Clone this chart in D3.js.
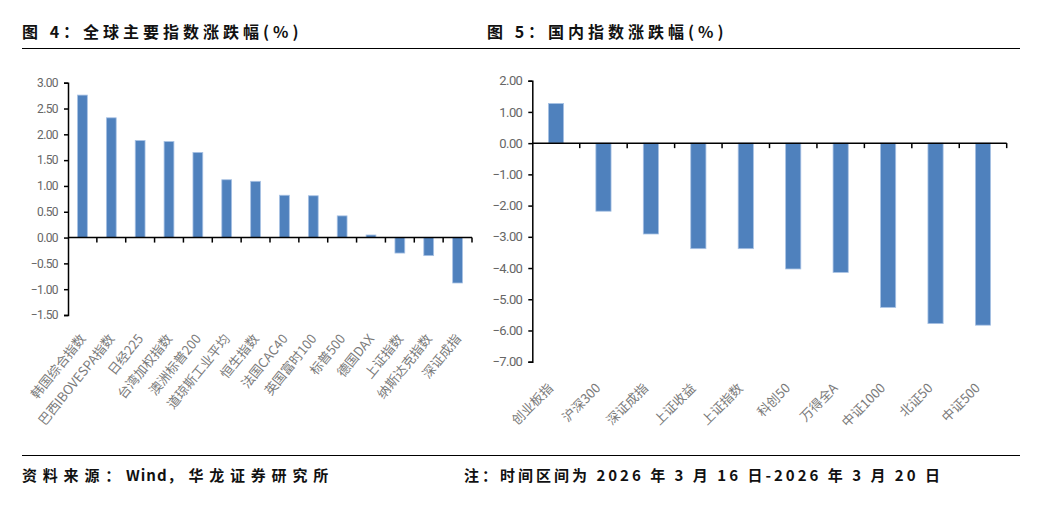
<!DOCTYPE html>
<html>
<head>
<meta charset="utf-8">
<script src="https://d3js.org/d3.v7.min.js"></script>
<style>
  body { margin: 0; background: #fff; }
  svg text { font-family: "Noto Sans CJK SC", sans-serif; }
  .title { font-size: 16px; font-weight: 700; fill: #111; letter-spacing: 4px; }
  .foot { font-size: 15px; font-weight: 700; fill: #111; }
  .ytick text { font-family: Roboto, sans-serif; fill: #666; }
  .cat { fill: #7a7a7a; }
</style>
</head>
<body>
<svg id="chart" width="1045" height="507"></svg>
<script>
// 图4 全球主要指数
var globalNames = ["韩国综合指数", "巴西IBOVESPA指数", "日经225", "台湾加权指数", "澳洲标普200",
  "道琼斯工业平均", "恒生指数", "法国CAC40", "英国富时100", "标普500", "德国DAX",
  "上证指数", "纳斯达克指数", "深证成指"];
var globalValues = [2.76, 2.32, 1.88, 1.86, 1.65, 1.12, 1.09, 0.82, 0.81, 0.42, 0.05, -0.30, -0.35, -0.88];
var globalTicks = [3, 2.5, 2, 1.5, 1, 0.5, 0, -0.5, -1, -1.5];

// 图5 国内指数
var domesticNames = ["创业板指", "沪深300", "深证成指", "上证收益", "上证指数", "科创50",
  "万得全A", "中证1000", "北证50", "中证500"];
var domesticValues = [1.27, -2.18, -2.91, -3.38, -3.38, -4.03, -4.14, -5.26, -5.78, -5.83];
var domesticTicks = [2, 1, 0, -1, -2, -3, -4, -5, -6, -7];

var svg = d3.select("#chart");

// titles and rules
svg.append("text").attr("class", "title").attr("x", 22).attr("y", 38).text("图 4：全球主要指数涨跌幅(%)");
svg.append("text").attr("class", "title").attr("x", 487).attr("y", 38).text("图 5：国内指数涨跌幅(%)");
svg.append("line").attr("x1", 22).attr("x2", 1020).attr("y1", 48.5).attr("y2", 48.5)
  .attr("stroke", "#000").attr("stroke-width", 1.2);
svg.append("line").attr("x1", 22).attr("x2", 1020).attr("y1", 455.5).attr("y2", 455.5)
  .attr("stroke", "#000").attr("stroke-width", 1.2);

var src = svg.append("text").attr("class", "foot").attr("x", 22).attr("y", 481);
src.append("tspan").style("letter-spacing", "5.8px").text("资料来源：");
src.append("tspan").style("letter-spacing", "1px").text("Wind");
src.append("tspan").style("letter-spacing", "5.8px").text("，华龙证券研究所");

svg.append("text").attr("class", "foot").attr("x", 464).attr("y", 481)
  .style("letter-spacing", "3px").text("注：时间区间为 2026 年 3 月 16 日-2026 年 3 月 20 日");

function drawChart(cfg) {
  var x = d3.scaleBand().domain(cfg.names).range([cfg.x0, cfg.x1]).paddingInner(0).paddingOuter(0);
  var y = d3.scaleLinear().domain(cfg.domain).range([cfg.yBottom, cfg.yTop]);
  var g = svg.append("g");
  var bw = x.bandwidth() * cfg.barFrac;

  g.selectAll("rect").data(cfg.values).enter().append("rect")
    .attr("x", function(d, i) { return x(cfg.names[i]) + (x.bandwidth() - bw) / 2; })
    .attr("y", function(d) { return y(Math.max(0, d)); })
    .attr("width", bw)
    .attr("height", function(d) { return Math.abs(y(d) - y(0)); })
    .attr("fill", "#4f81bd")
    .attr("stroke", "#a8c2e4")
    .attr("stroke-width", 0.8);

  // y axis
  var ya = g.append("g").attr("class", "ytick")
    .attr("transform", "translate(" + cfg.x0 + ",0)")
    .call(d3.axisLeft(y).tickValues(cfg.ticks).tickFormat(d3.format(".2f")).tickSize(4).tickPadding(6));
  ya.selectAll("text").style("font-size", cfg.tickFont + "px").style("letter-spacing", "-0.6px");
  ya.select(".domain").attr("stroke", "#000").attr("stroke-width", 1.5);
  ya.selectAll(".tick line").attr("stroke", "#000").attr("stroke-width", 1.5);

  // x axis at zero, ticks at band boundaries
  var bounds = cfg.names.map(function(n) { return x(n); }).slice(1).concat([cfg.x1]);
  var xa = g.append("g").attr("transform", "translate(0," + y(0) + ")");
  xa.append("line").attr("x1", cfg.x0).attr("x2", cfg.x1).attr("stroke", "#000").attr("stroke-width", 1.5);
  xa.selectAll(".xt").data(bounds).enter().append("line")
    .attr("x1", function(d) { return d; }).attr("x2", function(d) { return d; })
    .attr("y1", 0).attr("y2", 5).attr("stroke", "#000").attr("stroke-width", 1.5);

  // category labels
  g.selectAll(".cat").data(cfg.names).enter().append("text")
    .attr("class", "cat")
    .attr("text-anchor", "end")
    .style("font-size", cfg.catFont + "px")
    .attr("transform", function(d) {
      var cx = x(d) + x.bandwidth() / 2 + cfg.labDx;
      return "translate(" + cx + "," + cfg.labY + ") rotate(" + cfg.angle + ")";
    })
    .text(function(d) { return d; });
}

drawChart({ names: globalNames, values: globalValues, ticks: globalTicks, domain: [-1.5, 3],
  x0: 68, x1: 472, yTop: 82.7, yBottom: 315, barFrac: 0.34, tickFont: 12, catFont: 13,
  labDx: 4, labY: 339, angle: -51 });

drawChart({ names: domesticNames, values: domesticValues, ticks: domesticTicks, domain: [-7, 2],
  x0: 532.3, x1: 1006.7, yTop: 80.7, yBottom: 361.7, barFrac: 0.32, tickFont: 13, catFont: 13,
  labDx: -2, labY: 389, angle: -45 });
</script>
</body>
</html>
